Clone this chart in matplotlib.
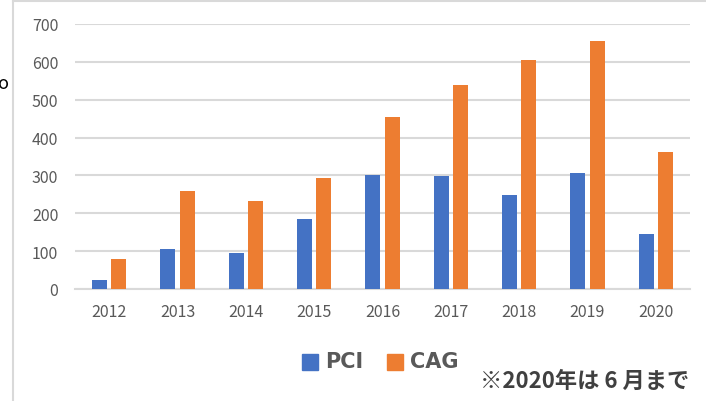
import matplotlib.pyplot as plt
import numpy as np
from matplotlib.patches import Rectangle
from matplotlib.lines import Line2D

plt.rcParams['font.family'] = ['Noto Sans CJK JP', 'DejaVu Sans']

years = ['2012', '2013', '2014', '2015', '2016', '2017', '2018', '2019', '2020']
pci = [24, 105, 95, 185, 301, 298, 248, 306, 145]
cag = [79, 259, 232, 293, 454, 538, 604, 654, 361]

blue = '#4472c4'
orange = '#ed7d31'
grey = '#595959'

fig = plt.figure(figsize=(7.06, 4.02), dpi=100)
ax = fig.add_axes([75 / 706, 1 - 290 / 402, 615 / 706, 265 / 402])

x = np.arange(len(years))
w = 0.22
ax.bar(x - w / 2 - 0.03, pci, w, color=blue, label='PCI', zorder=3)
ax.bar(x + w / 2 + 0.03, cag, w, color=orange, label='CAG', zorder=3)

ax.set_xlim(-0.5, len(years) - 0.5)
ax.set_ylim(0, 700)
ax.set_yticks(range(0, 701, 100))
ax.set_xticks(x)
ax.set_xticklabels(years)
ax.yaxis.grid(True, color='#d9d9d9', linewidth=1.5, zorder=0)
ax.tick_params(length=0, labelsize=11.5, colors=grey, pad=10)
ax.tick_params(axis='y', pad=12)
for s in ['top', 'right', 'left']:
    ax.spines[s].set_visible(False)
ax.spines['bottom'].set_color('#d9d9d9')
ax.spines['bottom'].set_linewidth(1.5)

# outer frame
fig.add_artist(Line2D([13 / 706, 13 / 706], [0, 1 - 2 / 402], color='#d9d9d9', lw=1.5))
fig.add_artist(Line2D([13 / 706, 1], [1 - 2 / 402, 1 - 2 / 402], color='#d9d9d9', lw=1.5))
fig.text(-2 / 706, 1 - 84 / 402, 'o', fontsize=13, va='center', color='black')

# legend
for xs, lab, col in [(302, 'PCI', blue), (387, 'CAG', orange)]:
    fig.add_artist(Rectangle((xs / 706, 1 - 371 / 402), 16 / 706, 16 / 402, color=col))
    fig.text((xs + 23) / 706, 1 - 362 / 402, lab, fontsize=15, fontweight='bold',
             color=grey, va='center', family=['DejaVu Sans'])

fig.text(480 / 706, 1 - 381 / 402, '※2020年は 6 月まで', fontsize=16, fontweight='bold',
         color='#404040', va='center')

fig.savefig('out.png', dpi=100)
